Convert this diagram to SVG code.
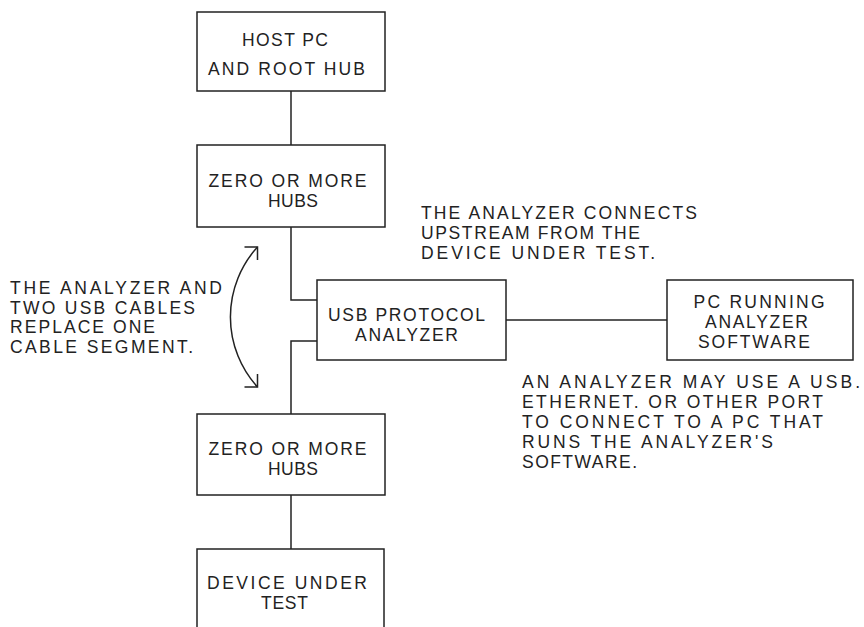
<svg xmlns="http://www.w3.org/2000/svg" width="864" height="627" viewBox="0 0 864 627">
<style>
.box{fill:#fff;stroke:#222;stroke-width:1.5}
.ln{fill:none;stroke:#222;stroke-width:1.5}
text{font-family:"Liberation Sans",Arial,sans-serif;font-size:17.5px;fill:#222}
.c{text-anchor:middle}
</style>
<rect width="864" height="627" fill="#fff"/>
<g id="connectors">
<path class="ln" d="M291,91 V145"/>
<path class="ln" d="M291,227 V300 H317"/>
<path class="ln" d="M317,341 H291 V414"/>
<path class="ln" d="M291,495 V549"/>
<path class="ln" d="M506,320 H667"/>
<path class="ln" d="M257.5,247 A104,104 0 0 0 257.5,387"/>
<path class="ln" d="M244.5,247 H257.5 V260"/>
<path class="ln" d="M244.5,387 H257.5 V374"/>
</g>
<g id="host">
<rect class="box" x="197" y="12" width="188" height="79"/>
<text class="c" x="285" y="46" textLength="86" lengthAdjust="spacing">HOST PC</text>
<text class="c" x="286.5" y="75" textLength="157" lengthAdjust="spacing">AND ROOT HUB</text>
</g>
<g id="hubs1">
<rect class="box" x="197" y="145" width="188" height="82"/>
<text class="c" x="287.5" y="187" textLength="158" lengthAdjust="spacing">ZERO OR MORE</text>
<text class="c" x="293" y="207" textLength="50" lengthAdjust="spacing">HUBS</text>
</g>
<g id="analyzer">
<rect class="box" x="317" y="280" width="189" height="80"/>
<text class="c" x="406.5" y="321" textLength="157" lengthAdjust="spacing">USB PROTOCOL</text>
<text class="c" x="406.5" y="340.5" textLength="103" lengthAdjust="spacing">ANALYZER</text>
</g>
<g id="pc">
<rect class="box" x="667" y="280" width="186" height="80"/>
<text class="c" x="759" y="307.5" textLength="131" lengthAdjust="spacing">PC RUNNING</text>
<text class="c" x="756.5" y="328" textLength="103" lengthAdjust="spacing">ANALYZER</text>
<text class="c" x="754" y="348.3" textLength="112" lengthAdjust="spacing">SOFTWARE</text>
</g>
<g id="hubs2">
<rect class="box" x="197" y="414" width="188" height="81"/>
<text class="c" x="287.5" y="455" textLength="158" lengthAdjust="spacing">ZERO OR MORE</text>
<text class="c" x="293" y="474.5" textLength="50" lengthAdjust="spacing">HUBS</text>
</g>
<g id="device">
<rect class="box" x="197" y="549" width="187" height="95"/>
<text class="c" x="287" y="589" textLength="160" lengthAdjust="spacing">DEVICE UNDER</text>
<text class="c" x="284.5" y="608.5" textLength="47" lengthAdjust="spacing">TEST</text>
</g>
<g id="note-upstream">
<text x="421" y="219.3" textLength="276" lengthAdjust="spacing">THE ANALYZER CONNECTS</text>
<text x="421" y="239.3" textLength="219" lengthAdjust="spacing">UPSTREAM FROM THE</text>
<text x="421" y="259.3" textLength="234" lengthAdjust="spacing">DEVICE UNDER TEST.</text>
</g>
<g id="note-replace">
<text x="10" y="294" textLength="212" lengthAdjust="spacing">THE ANALYZER AND</text>
<text x="10" y="313.7" textLength="185" lengthAdjust="spacing">TWO USB CABLES</text>
<text x="10" y="333.4" textLength="145" lengthAdjust="spacing">REPLACE ONE</text>
<text x="10" y="353.3" textLength="183" lengthAdjust="spacing">CABLE SEGMENT.</text>
</g>
<g id="note-port">
<text x="522" y="388.3" textLength="338" lengthAdjust="spacing">AN ANALYZER MAY USE A USB.</text>
<text x="522" y="408.3" textLength="301" lengthAdjust="spacing">ETHERNET. OR OTHER PORT</text>
<text x="522" y="428.3" textLength="301" lengthAdjust="spacing">TO CONNECT TO A PC THAT</text>
<text x="522" y="448.3" textLength="251" lengthAdjust="spacing">RUNS THE ANALYZER'S</text>
<text x="522" y="468.3" textLength="115" lengthAdjust="spacing">SOFTWARE.</text>
</g>
</svg>
